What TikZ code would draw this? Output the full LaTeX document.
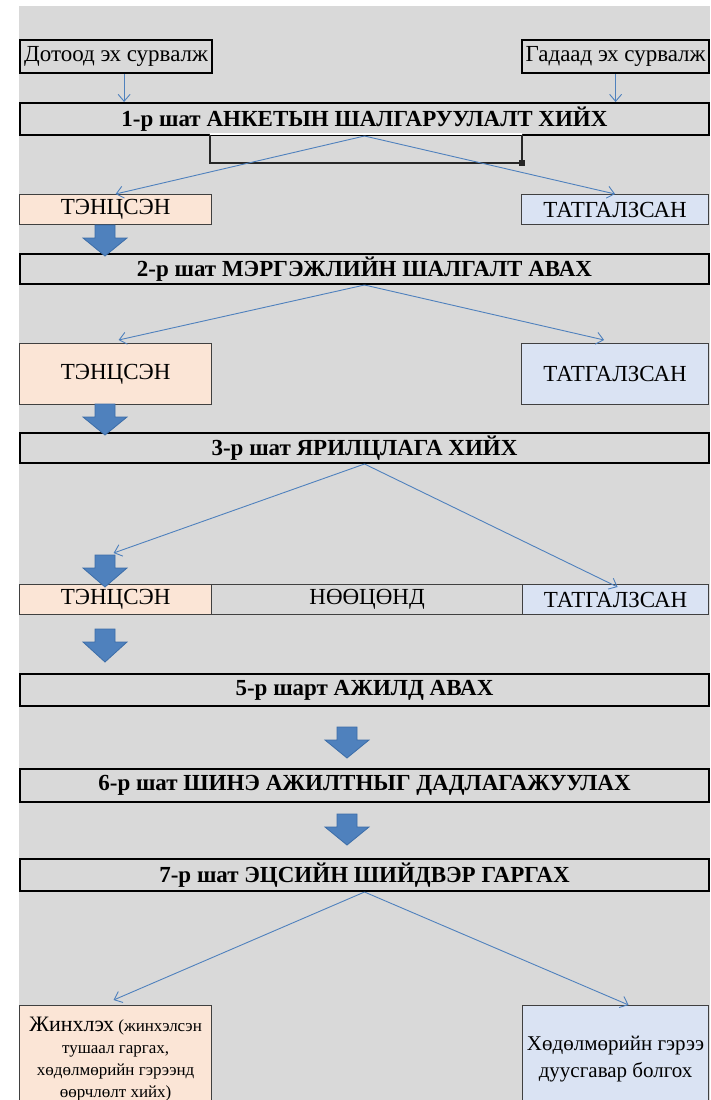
\documentclass[tikz,border=0pt]{standalone}
\usepackage{fontspec}
\setmainfont{Liberation Serif}
\usetikzlibrary{arrows.meta,calc}
\definecolor{bg}{HTML}{D9D9D9}
\definecolor{peach}{HTML}{FBE5D6}
\definecolor{lblue}{HTML}{DAE3F3}
\definecolor{arrowblue}{HTML}{4F81BD}
\definecolor{arrowedge}{HTML}{3C6DA8}
\definecolor{linegray}{HTML}{404040}
\newcommand\DownArrow[3]{%
  \draw[bigarrow] (#1-10,#2) -- (#1+10,#2) -- (#1+10,#2+13) -- (#1+22,#2+13)
    -- (#1,#3) -- (#1-22,#2+13) -- (#1-10,#2+13) -- cycle;}
\begin{document}
\begin{tikzpicture}[x=1pt,y=-1pt,
  basebox/.style={inner sep=0pt, anchor=north west, text=black},
  srcbox/.style={basebox, draw=black, line width=2.2pt, fill=bg, font=\fontsize{23}{27}\selectfont},
  stepbox/.style={basebox, draw=black, line width=2pt, fill=bg, minimum width=689pt, font=\bfseries\fontsize{23}{27}\selectfont},
  okbox/.style={basebox, draw=linegray, line width=1.2pt, fill=peach, font=\fontsize{23}{27}\selectfont},
  nobox/.style={basebox, draw=linegray, line width=1.2pt, fill=lblue, font=\fontsize{23}{27}\selectfont},
  midbox/.style={basebox, draw=linegray, line width=1.2pt, fill=bg, font=\fontsize{23}{27}\selectfont},
  thinarrow/.style={draw=arrowblue, line width=0.9pt, -{Straight Barb[length=7pt,width=12pt]}},
  bigarrow/.style={fill=arrowblue, draw=arrowedge, line width=0.8pt, line join=miter}
]
\useasboundingbox (0,0) rectangle (710,1100);
\fill[white] (0,0) rectangle (710,1100);
\fill[bg] (19,6) rectangle (710,1100);

% sources
\node[srcbox, minimum width=192pt, minimum height=33pt] (src1) at (19,39) {Дотоод эх сурвалж};
\node[srcbox, minimum width=187pt, minimum height=33pt] (src2) at (521,39) {Гадаад эх сурвалж};

% step 1
\node[stepbox, minimum height=32pt] (s1) at (19,102) {1-р шат АНКЕТЫН ШАЛГАРУУЛАЛТ ХИЙХ};
\draw[black!85, line width=2pt] (210,134) -- (210,163) -- (522,163) -- (522,134);
\fill[black!85] (519,160) rectangle (525,166);
\draw[white, line width=2pt] (210,134) -- (522,134);

\coordinate (a1) at ($(src1.south)+(8,0)$);
\draw[thinarrow] (a1) -- (a1 |- s1.north);
\draw[thinarrow] (src2.south) -- (src2.south |- s1.north);

\node[okbox, minimum width=192pt, minimum height=30pt] (t1) at (19,194) {ТЭНЦСЭН};
\node[nobox, minimum width=187pt, minimum height=30pt] (r1) at (521,194) {ТАТГАЛЗСАН};
\draw[thinarrow] (s1.south) -- (t1.north);
\draw[thinarrow] (s1.south) -- (r1.north);

% step 2
\node[stepbox, minimum height=30pt] (s2) at (19,253) {2-р шат МЭРГЭЖЛИЙН ШАЛГАЛТ АВАХ};
\DownArrow{105}{225}{256}
\node[okbox, minimum width=192pt, minimum height=61pt] (t2) at (19,343) {ТЭНЦСЭН};
\node[nobox, minimum width=187pt, minimum height=61pt] (r2) at (521,343) {ТАТГАЛЗСАН};
\coordinate (e2l) at ($(t2.north)+(3,-3)$);
\coordinate (e2r) at ($(r2.north)+(-11,-3)$);
\draw[thinarrow] (s2.south) -- (e2l);
\draw[thinarrow] (s2.south) -- (e2r);

% step 3
\node[stepbox, minimum height=30pt] (s3) at (19,432) {3-р шат ЯРИЛЦЛАГА ХИЙХ};
\DownArrow{105}{404}{435}
\node[okbox, minimum width=192pt, minimum height=30pt] (t3) at (19,584) {ТЭНЦСЭН};
\node[midbox, minimum width=311pt, minimum height=30pt] (n3) at (211,584) {НӨӨЦӨНД};
\node[nobox, minimum width=186pt, minimum height=30pt] (r3) at (522,584) {ТАТГАЛЗСАН};
\DownArrow{105}{555}{587}
\coordinate (e3l) at ($(t3.north)+(-2,-31)$);
\coordinate (e3r) at ($(r3.north)+(2,3)$);
\draw[thinarrow] (s3.south) -- (e3l);
\draw[thinarrow] (s3.south) -- (e3r);

% step 5
\DownArrow{105}{629}{662}
\node[stepbox, minimum height=32pt] (s5) at (19,673) {5-р шарт АЖИЛД АВАХ};
\DownArrow{347}{727}{758}
\node[stepbox, minimum height=33pt] (s6) at (19,768) {6-р шат ШИНЭ АЖИЛТНЫГ ДАДЛАГАЖУУЛАХ};
\DownArrow{347}{814}{845}
\node[stepbox, minimum height=32pt] (s7) at (19,858) {7-р шат ЭЦСИЙН ШИЙДВЭР ГАРГАХ};

% final
\node[okbox, minimum width=192pt, minimum height=106pt, align=center, font=\fontsize{17}{22}\selectfont] (b1) at (19,1005)
  {{\fontsize{22}{22}\selectfont Жинхлэх} (жинхэлсэн\\тушаал гаргах,\\хөдөлмөрийн гэрээнд\\өөрчлөлт хийх)};
\node[nobox, minimum width=186pt, minimum height=106pt, align=center, font=\fontsize{21}{27}\selectfont] (b2) at (522,1005)
  {Хөдөлмөрийн гэрээ\\дуусгавар болгох};
\coordinate (e7l) at ($(b1.north)+(-2,-5)$);
\coordinate (e7r) at ($(b2.north)+(13,0)$);
\draw[thinarrow] (s7.south) -- (e7l);
\draw[thinarrow] (s7.south) -- (e7r);
\end{tikzpicture}
\end{document}
